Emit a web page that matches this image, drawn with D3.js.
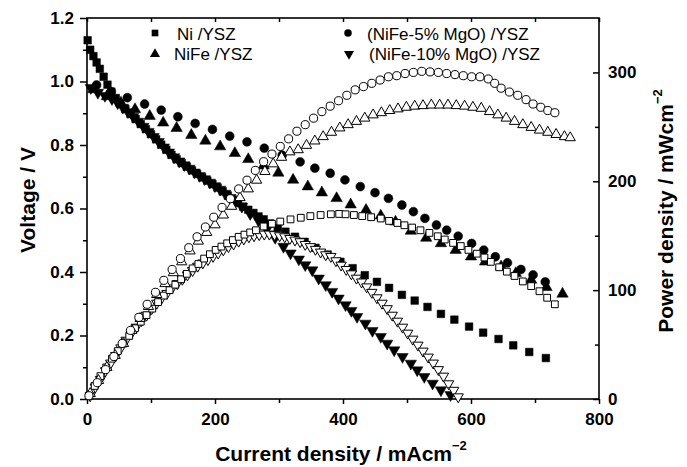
<!DOCTYPE html>
<html>
<head>
<meta charset="utf-8">
<script src="https://cdn.jsdelivr.net/npm/d3@7"></script>
<style>
  body { margin: 0; background: #fff; }
  svg { display: block; font-family: "Liberation Sans", Arial, sans-serif; }
  .tick text { font-weight: bold; font-size: 17px; fill: #000; }
  .tick line { stroke: #000; stroke-width: 1.5; }
</style>
</head>
<body>
<div class="chart"></div>
<script>
// Voltage data (left axis), [current density mA/cm2, voltage V]
const niVolt = [[1,1.13],[5,1.10],[10,1.08],[15,1.06],[20,1.04],[26,1.015],[32,0.99],[38,0.968],[45,0.948],[52,0.93],[60,0.913],[68,0.898],[76,0.882],[84,0.866],[92,0.85],[100,0.834],[108,0.818],[116,0.801],[124,0.785],[132,0.769],[140,0.755],[148,0.743],[156,0.732],[164,0.72],[172,0.709],[180,0.698],[188,0.688],[196,0.677],[204,0.666],[212,0.654],[220,0.641],[228,0.628],[236,0.617],[244,0.606],[252,0.596],[260,0.586],[268,0.575],[276,0.566],[286,0.553],[298,0.539],[310,0.527],[325,0.511],[340,0.495],[357,0.476],[376,0.455],[396,0.432],[415,0.412],[434,0.39],[453,0.369],[472,0.35],[492,0.328],[512,0.31],[532,0.29],[553,0.268],[574,0.25],[597,0.228],[619,0.209],[643,0.189],[666,0.169],[691,0.148],[717,0.129]];
const niFeVolt = [[10,0.975],[31,0.953],[53,0.933],[75,0.912],[98,0.891],[119,0.87],[140,0.853],[163,0.831],[185,0.813],[208,0.795],[231,0.774],[252,0.755],[276,0.735],[299,0.712],[322,0.69],[345,0.669],[367,0.65],[390,0.632],[412,0.612],[436,0.595],[459,0.577],[482,0.558],[506,0.529],[530,0.507],[553,0.49],[576,0.469],[600,0.448],[622,0.432],[647,0.417],[670,0.396],[694,0.375],[718,0.352],[743,0.331]];
const mg5Volt = [[15,0.989],[38,0.968],[63,0.949],[90,0.929],[116,0.91],[142,0.889],[169,0.868],[196,0.849],[223,0.828],[250,0.81],[277,0.79],[305,0.768],[333,0.747],[356,0.727],[380,0.711],[403,0.69],[427,0.669],[450,0.65],[471,0.632],[492,0.611],[510,0.59],[528,0.569],[546,0.548],[562,0.532],[580,0.513],[601,0.49],[620,0.469],[638,0.448],[657,0.429],[678,0.408],[697,0.391],[716,0.369]];
const mg10Volt = [[6,0.98],[17,0.965],[28,0.955],[39,0.945],[48,0.932],[56,0.918],[64,0.904],[72,0.889],[80,0.874],[88,0.858],[96,0.842],[104,0.826],[112,0.81],[120,0.793],[128,0.777],[136,0.762],[144,0.749],[152,0.737],[160,0.726],[168,0.714],[176,0.703],[184,0.693],[192,0.682],[200,0.671],[208,0.66],[216,0.647],[224,0.634],[232,0.622],[242,0.606],[255,0.583],[268,0.562],[281,0.535],[294,0.508],[307,0.48],[318,0.459],[331,0.44],[341,0.422],[352,0.406],[362,0.38],[373,0.359],[383,0.338],[393,0.317],[404,0.296],[413,0.278],[422,0.259],[435,0.238],[446,0.215],[459,0.196],[469,0.175],[480,0.154],[493,0.133],[506,0.112],[516,0.091],[527,0.07],[540,0.049],[553,0.028],[568,0.013]];

// Power density data (right axis), [current density, mW/cm2]
const niPow = [[3,3],[12,12],[21,21],[30,29],[39,37],[48,44],[57,51],[66,58],[75,65],[84,71],[93,77],[102,83],[111,89],[120,95],[129,100],[138,105],[147,110],[156,115],[165,120],[174,124],[183,129],[192,133],[201,137],[210,140],[219,143],[228,146],[237,149],[246,151],[255,153],[264,155],[276,158.5],[289,161],[302,163],[318,165],[334,166.5],[349,168],[365,169],[381,169.7],[394,170],[404,169.7],[417,169],[430,168],[444,167],[459,165.8],[472,163.6],[485,161.7],[496,159.6],[508,157.5],[521,155],[535,152.6],[548,149.5],[559,146.5],[572,143.4],[584,140.5],[596,137],[609,133.5],[621,130],[631,126],[644,121],[656,117],[668,113],[681,108],[694,103.7],[707,99],[719,93],[731,87]];
const niFePow = [[5,5],[18,17],[31,29],[44,40],[57,51],[70,63],[83,74],[96,85],[109,96],[122,106],[135,116],[148,126],[161,136],[174,145],[187,153],[200,160],[213,169],[226,177],[239,185],[252,193],[265,201],[278,209],[291,216],[304,222],[317,227],[330,229],[343,233],[356,237],[369,241],[382,245],[395,249],[408,252],[421,255],[434,258],[447,261],[460,263],[473,265],[486,266.5],[499,268],[512,269],[525,269.5],[538,270],[551,270],[564,270],[577,269.5],[590,269],[603,268],[616,267],[629,264],[642,261],[655,258],[668,255],[681,252],[694,249.5],[707,247],[720,245],[733,243],[746,241],[755,240]];
const mg5Pow = [[3,3],[16,15],[29,27],[42,39],[55,51],[68,63],[81,75],[94,87],[107,98],[120,109],[133,119],[146,129],[159,139],[172,149],[185,158],[198,167],[211,176],[224,184],[237,193],[250,201],[263,210],[276,218],[289,225],[302,232],[315,239],[328,246],[341,252],[354,258],[367,264],[380,269],[393,274],[406,279],[419,284],[432,287],[445,290],[458,293],[471,296],[484,297],[497,299],[510,300],[523,301],[536,300.5],[549,300],[562,299],[575,298],[588,297],[601,296],[614,296],[627,294],[637,290],[647,285.5],[660,282],[673,279],[686,275],[697,271],[709,268],[720,265],[731,263]];
const mg10Pow = [[5,3],[13,11],[21,18],[29,26],[37,33],[45,40],[53,47],[61,54],[69,60],[77,66],[85,72],[93,77],[101,83],[109,88],[117,93],[125,97],[133,102],[141,106],[149,110],[157,114],[165,118],[173,122],[181,125],[189,128],[197,131],[205,134],[213,137],[221,140],[229,142.5],[237,145],[245,147],[253,149],[261,150],[269,151],[277,151.5],[285,151.5],[293,151],[301,150],[309,149],[317,147.5],[325,146],[333,144.5],[341,142],[349,140],[357,137.5],[365,135],[373,132.5],[381,131],[389,127],[397,123],[405,119],[413,115],[421,111],[429,107.5],[437,103],[445,98],[453,93],[461,88],[469,83],[477,77],[485,71.5],[493,66],[501,60.5],[509,55],[517,49.5],[525,44],[533,38.5],[541,33],[549,27],[557,21],[565,14],[573,8],[580,2]];

// Tick values
const xMajor = [0, 200, 400, 600, 800];
const xMinor = [100, 300, 500, 700];
const vMajor = [0, 0.2, 0.4, 0.6, 0.8, 1.0, 1.2];
const vMinor = [0.1, 0.3, 0.5, 0.7, 0.9, 1.1];
const pMajor = [0, 100, 200, 300];
const pMinor = [50, 150, 250];

var width = 687, height = 467;
var padding = {left: 87, right: 88, top: 18, bottom: 68};
var w = width - padding.left - padding.right;
var h = height - padding.top - padding.bottom;

var svg = d3.select(".chart").append("svg")
    .attr("width", width)
    .attr("height", height);
var g = svg.append("g")
    .attr("transform", "translate(" + padding.left + "," + padding.top + ")");

var xScale = d3.scaleLinear().domain([0, 800]).range([0, w]);
var yV = d3.scaleLinear().domain([0, 1.2]).range([h, 0]);
var yP = d3.scaleLinear().domain([0, 350]).range([h, 0]);

function addAxis(axis, tx, ty) {
    var a = g.append("g")
        .attr("transform", "translate(" + tx + "," + ty + ")")
        .call(axis);
    a.select(".domain").remove();
    return a;
}

// bottom axis
addAxis(d3.axisBottom(xScale).tickValues(xMajor).tickSize(5).tickPadding(9), 0, h);
addAxis(d3.axisBottom(xScale).tickValues(xMinor).tickSize(4).tickFormat(""), 0, h);
// top axis, inward
addAxis(d3.axisTop(xScale).tickValues(xMajor.concat(xMinor)).tickSize(-4).tickFormat(""), 0, 0);
// left axis
addAxis(d3.axisLeft(yV).tickValues(vMajor).tickSize(7).tickPadding(6).tickFormat(d3.format(".1f")), 0, 0);
addAxis(d3.axisLeft(yV).tickValues(vMinor).tickSize(4).tickFormat(""), 0, 0);
// right axis, inward ticks
addAxis(d3.axisRight(yP).tickValues(pMajor).tickSize(-6).tickPadding(9), w, 0);
addAxis(d3.axisRight(yP).tickValues(pMinor).tickSize(-4).tickFormat(""), w, 0);

// frame
g.append("rect")
    .attr("width", w).attr("height", h)
    .attr("fill", "none").attr("stroke", "#000").attr("stroke-width", 1.6);

// draw one series of markers
function drawSeries(data, yScale, shape, size, filled, rot) {
    var sym = d3.symbol().type(shape).size(size);
    g.append("g").selectAll("path")
        .data(data)
        .enter()
        .append("path")
        .attr("d", sym)
        .attr("transform", function(d) {
            return "translate(" + xScale(d[0]) + "," + yScale(d[1]) + ")" + (rot ? " rotate(180)" : "");
        })
        .attr("fill", filled ? "#000" : "#fff")
        .attr("stroke", "#000")
        .attr("stroke-width", filled ? 0.5 : 1);
}

drawSeries(niVolt, yV, d3.symbolSquare, 58, true, false);
drawSeries(niFeVolt, yV, d3.symbolTriangle, 56, true, false);
drawSeries(mg5Volt, yV, d3.symbolCircle, 62, true, false);
drawSeries(mg10Volt, yV, d3.symbolTriangle, 56, true, true);

drawSeries(mg10Pow, yP, d3.symbolTriangle, 46, false, true);
drawSeries(niPow, yP, d3.symbolSquare, 46, false, false);
drawSeries(niFePow, yP, d3.symbolTriangle, 46, false, false);
drawSeries(mg5Pow, yP, d3.symbolCircle, 52, false, false);

// legend
var legend = [
    {name: "Ni /YSZ", shape: d3.symbolSquare, rot: false, mx: 155, my: 33, tx: 177, ty: 40},
    {name: "NiFe /YSZ", shape: d3.symbolTriangle, rot: false, mx: 155, my: 54, tx: 174, ty: 60},
    {name: "(NiFe-5% MgO) /YSZ", shape: d3.symbolCircle, rot: false, mx: 348, my: 33, tx: 367, ty: 40},
    {name: "(NiFe-10% MgO) /YSZ", shape: d3.symbolTriangle, rot: true, mx: 349, my: 54, tx: 369, ty: 60}
];
legend.forEach(function(l) {
    svg.append("path")
        .attr("d", d3.symbol().type(l.shape).size(44))
        .attr("transform", "translate(" + l.mx + "," + l.my + ")" + (l.rot ? " rotate(180)" : ""))
        .attr("fill", "#000");
    svg.append("text")
        .attr("x", l.tx).attr("y", l.ty)
        .attr("font-size", 17)
        .text(l.name);
});

// axis titles
var xt = svg.append("text")
    .attr("transform", "translate(341,461)")
    .attr("text-anchor", "middle")
    .attr("font-size", 21).attr("font-weight", "bold")
    .text("Current density / mAcm");
xt.append("tspan").attr("font-size", 13).attr("dy", -11).text("\u22122");

svg.append("text")
    .attr("transform", "translate(35,200) rotate(-90)")
    .attr("text-anchor", "middle")
    .attr("font-size", 21).attr("font-weight", "bold")
    .text("Voltage / V");

var yt = svg.append("text")
    .attr("transform", "translate(673,211) rotate(-90)")
    .attr("text-anchor", "middle")
    .attr("font-size", 21).attr("font-weight", "bold")
    .text("Power density / mWcm");
yt.append("tspan").attr("font-size", 13).attr("dy", -11).text("\u22122");
</script>
</body>
</html>
